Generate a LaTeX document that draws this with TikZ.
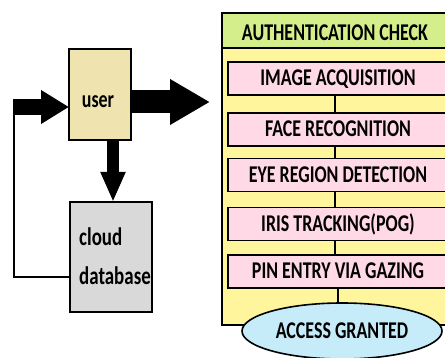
\documentclass[tikz,border=0pt]{standalone}
\usepackage{fontspec}
\setmainfont{Carlito}
\usepackage{graphicx}
\usetikzlibrary{arrows.meta,shapes.geometric}
\definecolor{usercol}{HTML}{EFE4B0}
\definecolor{cloudcol}{HTML}{D9D9D9}
\definecolor{titlecol}{HTML}{D5EE8C}
\definecolor{yelcol}{HTML}{FFF59D}
\definecolor{pinkcol}{HTML}{FFD9E5}
\definecolor{bluecol}{HTML}{C7ECF9}
\newcommand{\vs}[1]{\scalebox{0.97}[1.3]{#1}}
\tikzset{
  boxline/.style={draw=black, line width=1.6pt, inner sep=0pt, outer sep=0pt},
  lbl/.style={font=\fontsize{18.5}{20}\selectfont\bfseries, inner sep=0pt, text height=15pt, text depth=0pt},
  cloudlbl/.style={font=\fontsize{19.5}{21}\selectfont\bfseries, inner sep=0pt, anchor=base west},
  pinkbox/.style={boxline, fill=pinkcol, minimum width=220pt, minimum height=33pt, lbl},
  fat/.style={line width=#1},
  thinline/.style={draw=black, line width=1.6pt},
}
\begin{document}
\begin{tikzpicture}[x=1pt,y=-1pt]
\useasboundingbox (0,0) rectangle (445,358);
% right panel
\node[boxline, fill=yelcol, minimum width=228pt, minimum height=312pt] (panel) at (336,169) {};
\node[boxline, fill=titlecol, minimum width=228pt, minimum height=35pt, lbl] (title) at (336,30.5) {};
\node[lbl] (titletxt) at (335,33) {\vs{AUTHENTICATION CHECK}};
\node[pinkbox] (b1) at (338,78.5) {\vs{IMAGE ACQUISITION}};
\node[pinkbox] (b2) at (338,129.5) {\vs{FACE RECOGNITION}};
\node[pinkbox] (b3) at (338,175) {\vs{EYE REGION DETECTION}};
\node[pinkbox] (b4) at (338,224) {\vs{IRIS TRACKING(POG)}};
\node[pinkbox] (b5) at (338,271.5) {\vs{PIN ENTRY VIA GAZING}};
\node[ellipse, draw=black, line width=1.6pt, fill=bluecol, minimum width=200pt, minimum height=56pt, inner sep=0pt, lbl] (acc) at (342,331) {\vs{ACCESS GRANTED}};
\coordinate (cx) at (335,0);
\coordinate (cx2) at (338,0);
\draw[thinline] (b1.south -| cx) -- (b2.north -| cx);
\draw[thinline] (b2.south -| cx) -- (b3.north -| cx);
\draw[thinline] (b3.south -| cx) -- (b4.north -| cx);
\draw[thinline] (b4.south -| cx) -- (b5.north -| cx);
\draw[thinline] (b5.south -| cx2) -- (acc.north -| cx2);
% left part
\node[boxline, fill=usercol, minimum width=62pt, minimum height=91pt] (user) at (100,94.5) {};
\node[lbl, text height=9pt] (usertxt) at (98,103.5) {\vs{user}};
\node[boxline, fill=cloudcol, minimum width=82pt, minimum height=110pt] (cloud) at (111,257) {};
\node[cloudlbl] (cl1) at (79,246) {\vs{cloud}};
\node[cloudlbl] (cl2) at (79,285) {\vs{database}};
\coordinate (inL) at (13,107);
\coordinate (fb) at (14,277);
\coordinate (outR) at (210,102);
\coordinate (dx) at (113,0);
\draw[thinline] (cloud.west |- fb) -- (fb) -- (14,100);
\draw[fat=16pt, -{Triangle[length=28pt,width=32pt]}] (inL) -- (inL -| user.west);
\draw[fat=23pt, -{Triangle[length=40pt,width=43pt]}] (user.east |- outR) -- (outR);
\draw[fat=12pt, -{Triangle[length=30pt,width=23pt]}] (user.south -| dx) -- (cloud.north -| dx);
\end{tikzpicture}
\end{document}
